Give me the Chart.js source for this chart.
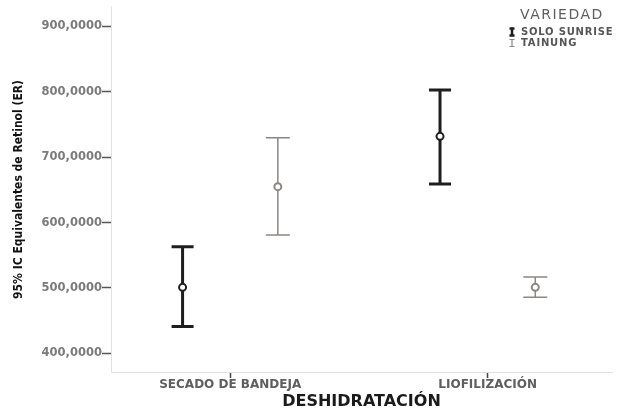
<!DOCTYPE html>
<html>
<head>
<meta charset="utf-8">
<script src="https://cdn.jsdelivr.net/npm/chart.js@4.4.0/dist/chart.umd.min.js"></script>
<style>
  html, body { margin: 0; padding: 0; background: #fff; }
  #wrap { width: 618px; height: 411px; }
</style>
</head>
<body>
<div id="wrap"><canvas id="chart" width="618" height="411"></canvas></div>
<script>
// data
const categories = ['SECADO DE BANDEJA', 'LIOFILIZACIÓN'];
const seriesNames = ['SOLO SUNRISE', 'TAINUNG'];
const soloMean = [501, 732];
const soloLow = [441, 659];
const soloHigh = [563, 803];
const tainungMean = [655, 501];
const tainungLow = [581, 486];
const tainungHigh = [730, 517];
const yTicks = [400, 500, 600, 700, 800, 900];

const shift = 0.185; // side by side inside each category
const soloColor = '#1e1e1e';
const tainungColor = '#8a8684';
const wideFont = '"DejaVu Sans", Verdana, sans-serif';

function meanPoints(means, dx) {
    return means.map((v, i) => ({ x: i + dx, y: v }));
}

// error bars, drawn with the chart scales
const errorBars = {
    id: 'errorBars',
    beforeDatasetsDraw(chart) {
        const ctx = chart.ctx;
        const xs = chart.scales.x;
        const ys = chart.scales.y;
        const groups = [
            { low: soloLow, high: soloHigh, dx: -shift, color: soloColor, width: 3, cap: 11 },
            { low: tainungLow, high: tainungHigh, dx: shift, color: tainungColor, width: 1.5, cap: 12 }
        ];
        ctx.save();
        groups.forEach(g => {
            ctx.strokeStyle = g.color;
            ctx.lineWidth = g.width;
            g.low.forEach((lo, i) => {
                const px = xs.getPixelForValue(i + g.dx);
                const y1 = ys.getPixelForValue(lo);
                const y2 = ys.getPixelForValue(g.high[i]);
                ctx.beginPath();
                ctx.moveTo(px, y1); ctx.lineTo(px, y2);
                ctx.moveTo(px - g.cap, y1); ctx.lineTo(px + g.cap, y1);
                ctx.moveTo(px - g.cap, y2); ctx.lineTo(px + g.cap, y2);
                ctx.stroke();
            });
        });
        ctx.restore();
    },
    afterDraw(chart) {
        // legend box, top right
        const ctx = chart.ctx;
        ctx.save();
        ctx.fillStyle = '#5e5e5e';
        ctx.font = '14px ' + wideFont;
        ctx.letterSpacing = '1.5px';
        ctx.textBaseline = 'middle';
        ctx.fillText('VARIEDAD', 520, 15);
        ctx.font = 'bold 10px ' + wideFont;
        ctx.letterSpacing = '0.8px';
        const rows = [
            { name: seriesNames[0], color: soloColor, width: 2.5, y: 32 },
            { name: seriesNames[1], color: tainungColor, width: 1.2, y: 43 }
        ];
        rows.forEach(r => {
            ctx.strokeStyle = r.color;
            ctx.lineWidth = r.width;
            ctx.beginPath();
            ctx.moveTo(512, r.y - 3.5); ctx.lineTo(512, r.y + 3.5);
            ctx.moveTo(509.5, r.y - 3.5); ctx.lineTo(514.5, r.y - 3.5);
            ctx.moveTo(509.5, r.y + 3.5); ctx.lineTo(514.5, r.y + 3.5);
            ctx.stroke();
            ctx.fillStyle = '#555';
            ctx.fillText(r.name, 521, r.y);
        });
        ctx.restore();
    }
};

const ctx = document.getElementById('chart').getContext('2d');
const chart = new Chart(ctx, {
    type: 'scatter',
    data: {
        datasets: [
            {
                label: seriesNames[0],
                data: meanPoints(soloMean, -shift),
                pointStyle: 'circle',
                pointRadius: 3.5,
                borderWidth: 2,
                borderColor: soloColor,
                backgroundColor: '#ffffff'
            },
            {
                label: seriesNames[1],
                data: meanPoints(tainungMean, shift),
                pointStyle: 'circle',
                pointRadius: 3.5,
                borderWidth: 2,
                borderColor: tainungColor,
                backgroundColor: '#ffffff'
            }
        ]
    },
    options: {
        responsive: false,
        animation: false,
        layout: { padding: { top: 0, right: 3, bottom: 0, left: 0 } },
        plugins: {
            legend: { display: false },
            tooltip: { enabled: false }
        },
        scales: {
            x: {
                type: 'linear',
                min: -0.463,
                max: 1.483,
                afterBuildTicks(scale) {
                    scale.ticks = categories.map((c, i) => ({ value: i }));
                },
                afterFit(scale) { scale.height = 39; },
                ticks: {
                    callback: (v) => categories[v] || '',
                    color: '#5e5e5e',
                    font: { family: wideFont, size: 12, weight: 'bold' },
                    padding: 0,
                    maxRotation: 0
                },
                grid: {
                    drawOnChartArea: false,
                    drawTicks: true,
                    tickLength: 6,
                    tickColor: '#444',
                    tickWidth: 1.5
                },
                border: { color: '#e2e2e2', width: 1 },
                title: {
                    display: true,
                    text: 'DESHIDRATACIÓN',
                    color: '#1a1a1a',
                    font: { family: wideFont, size: 16, weight: 'bold' },
                    padding: { top: 0, bottom: 0 }
                }
            },
            y: {
                min: 371.5,
                max: 930,
                afterBuildTicks(scale) {
                    scale.ticks = yTicks.map(v => ({ value: v }));
                },
                afterFit(scale) { scale.width = 111; },
                ticks: {
                    callback: (v) => v.toFixed(4).replace('.', ','),
                    color: '#7a7a7a',
                    font: { family: wideFont, size: 11.5, weight: 'bold' },
                    padding: 0
                },
                grid: {
                    drawOnChartArea: false,
                    drawTicks: true,
                    tickLength: 9,
                    tickColor: '#555',
                    tickWidth: 1.5
                },
                border: { color: '#e2e2e2', width: 1 },
                title: {
                    display: true,
                    text: '95% IC Equivalentes de Retinol (ER)',
                    color: '#111',
                    font: { family: '"Liberation Sans Narrow", "DejaVu Sans Condensed", Arial, sans-serif', size: 12, weight: 'bold' },
                    padding: { top: 12, bottom: 0 }
                }
            }
        }
    },
    plugins: [errorBars]
});
</script>
</body>
</html>
